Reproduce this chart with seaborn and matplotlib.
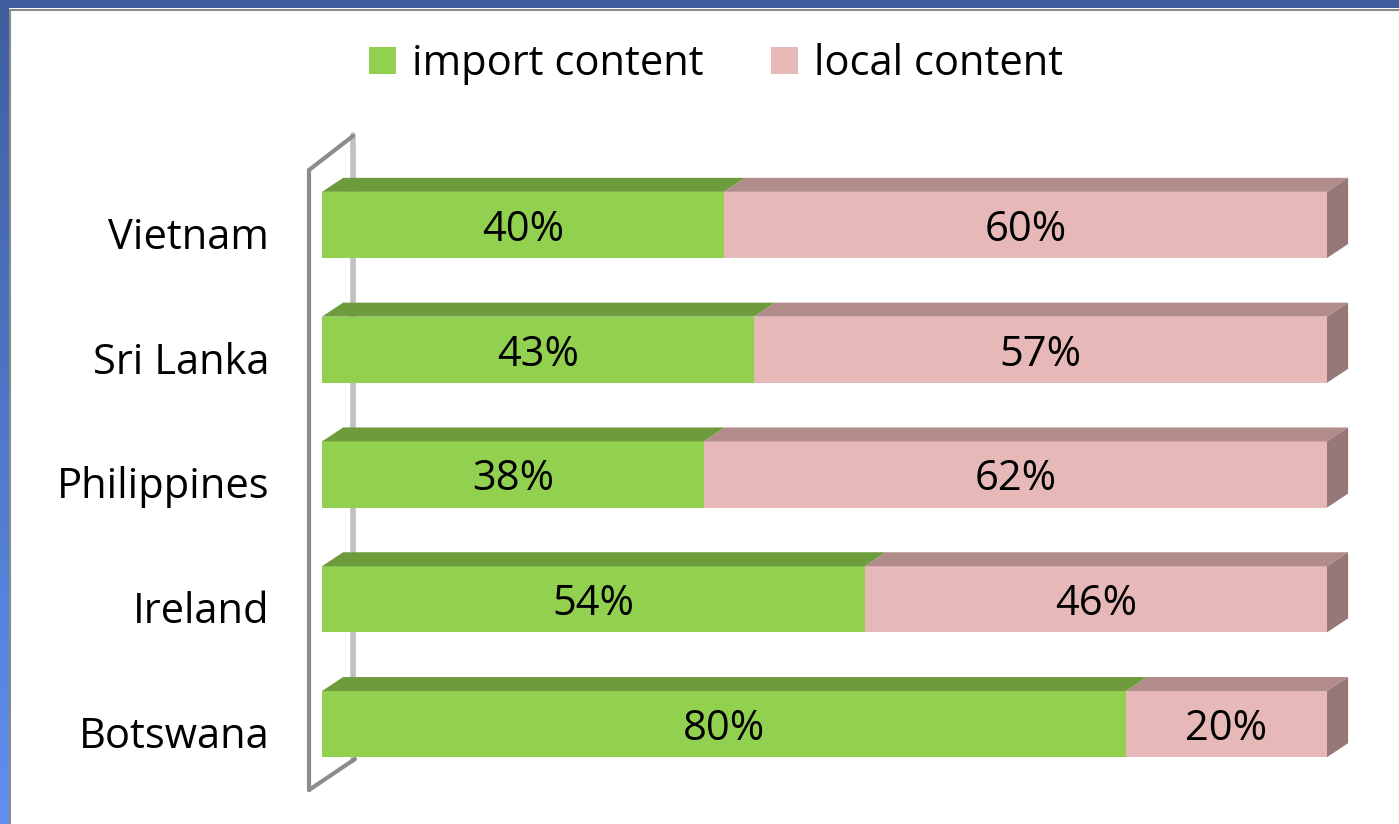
import numpy as np
import pandas as pd
import matplotlib
matplotlib.use("Agg")
import matplotlib.pyplot as plt
import matplotlib.transforms as mtransforms
import seaborn as sns
from matplotlib.patches import Polygon, Patch, Rectangle
from matplotlib.lines import Line2D

# data
countries = ["Vietnam", "Sri Lanka", "Philippines", "Ireland", "Botswana"]
import_content = [40, 43, 38, 54, 80]
local_content = [60, 57, 62, 46, 20]

df = pd.DataFrame({"country": countries,
                   "import": import_content,
                   "local": local_content})
df["total"] = df["import"] + df["local"]

green, green_top = "#92D050", "#6E9B3C"
pink, pink_top, pink_side = "#E6B9B8", "#B28C8B", "#967878"

sns.set_style("white")
plt.rcParams["font.family"] = ["Open Sans", "DejaVu Sans"]
plt.rcParams["text.color"] = "black"
plt.rcParams["ytick.color"] = "black"

W, H = 1399, 824
fig = plt.figure(figsize=(W / 100, H / 100), dpi=100)
ax = fig.add_axes([322 / W, 1 - 786.5 / H, 1005 / W, 624 / H])

bw = 0.53
sns.barplot(data=df, x="total", y="country", color=pink, width=bw,
            linewidth=0, saturation=1, ax=ax)
sns.barplot(data=df, x="import", y="country", color=green, width=bw,
            linewidth=0, saturation=1, ax=ax)

ax.set_xlim(0, 100)
ax.set_ylim(4.5, -0.5)

# shift value labels a bit down, like the original
down = mtransforms.ScaledTranslation(0, -5 / 100, fig.dpi_scale_trans)

# fake 3D depth (top and side faces)
dx, dy = 2.1, 0.112
for i, (imp, tot) in enumerate(zip(df["import"], df["total"])):
    top = i - bw / 2
    bot = i + bw / 2
    ax.add_patch(Polygon([(0, top), (dx, top - dy), (imp + dx, top - dy), (imp, top)],
                         closed=True, fc=green_top, ec="none", clip_on=False))
    ax.add_patch(Polygon([(imp, top), (imp + dx, top - dy), (tot + dx, top - dy), (tot, top)],
                         closed=True, fc=pink_top, ec="none", clip_on=False))
    ax.add_patch(Polygon([(tot, top), (tot + dx, top - dy), (tot + dx, bot - dy), (tot, bot)],
                         closed=True, fc=pink_side, ec="none", clip_on=False))
    ax.text(imp / 2, i, f"{imp}%", ha="center", va="center", fontsize=30,
            color="black", transform=ax.transData + down)
    ax.text(imp + (tot - imp) / 2, i, f"{tot - imp}%", ha="center", va="center",
            fontsize=30, color="black", transform=ax.transData + down)

ax.set_xlabel("")
ax.set_ylabel("")
ax.set_xticks([])
ax.tick_params(axis="y", length=0, pad=38, labelsize=30, labelcolor="black")
lab_down = mtransforms.ScaledTranslation(0, -8 / 100, fig.dpi_scale_trans)
for lab in ax.get_yticklabels():
    lab.set_transform(lab.get_transform() + lab_down)
for s in ax.spines.values():
    s.set_visible(False)
ax.patch.set_alpha(0)

# wall bracket on the left
def fx(x):
    return x / W

def fy(y):
    return 1 - y / H

wall = "#8C8C8C"
fig.add_artist(Line2D([fx(353), fx(353)], [fy(135), fy(760)], color="#C0C0C0", lw=4, zorder=0))
fig.add_artist(Line2D([fx(309), fx(309)], [fy(170), fy(790)], color=wall, lw=3, zorder=0))
fig.add_artist(Line2D([fx(309), fx(353)], [fy(170), fy(136)], color=wall, lw=3, zorder=0))
fig.add_artist(Line2D([fx(309), fx(355)], [fy(790), fy(759)], color=wall, lw=3, zorder=0))

# legend
handles = [Patch(fc=green, ec="none", label="import content"),
           Patch(fc=pink, ec="none", label="local content")]
fig.legend(handles=handles, loc="center", bbox_to_anchor=(716 / W, fy(64)),
           ncol=2, frameon=False, fontsize=30, handlelength=0.65,
           handleheight=0.62, handletextpad=0.4, columnspacing=1.6,
           labelcolor="black")

# slide frame
fig.add_artist(Rectangle((0, fy(8)), 1, 8 / H, fc="#3F5E9E", ec="none", zorder=5))
grad = np.linspace(0, 1, 256).reshape(-1, 1)
cax = fig.add_axes([0, 0, 9 / W, 1])
cmap = matplotlib.colors.LinearSegmentedColormap.from_list("frame", ["#3F5E9E", "#5E90F2"])
cax.imshow(grad, aspect="auto", cmap=cmap, origin="upper")
cax.axis("off")
fig.add_artist(Line2D([fx(10), 1], [fy(10), fy(10)], color="#8A8A8A", lw=1.5))
fig.add_artist(Line2D([fx(10), fx(10)], [fy(10), 0], color="#8A8A8A", lw=1.5))

fig.savefig("out.png", dpi=100)
